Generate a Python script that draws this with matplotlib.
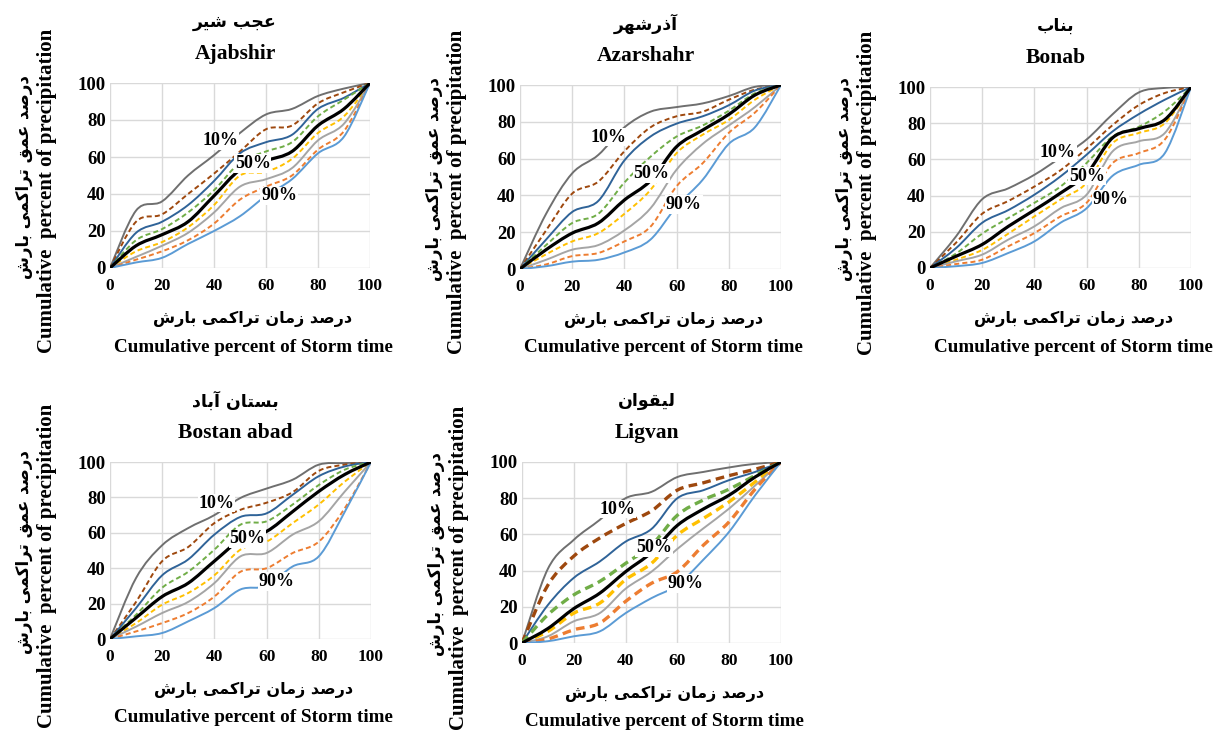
import matplotlib
matplotlib.use("Agg")
import matplotlib.pyplot as plt
from matplotlib.path import Path
from matplotlib.patches import PathPatch
import numpy as np

# cumulative percent of storm time (x of every curve)
time_pct = [0, 10, 20, 30, 40, 50, 60, 70, 80, 90, 100]
quantiles = ["10%", "20%", "30%", "40%", "50%", "60%", "70%", "80%", "90%"]

# rows: 10% .. 90% curves, cumulative percent of precipitation
ajabshir = [
    [0, 31, 36, 50, 61, 73, 83, 86, 93, 97, 100],
    [0, 25, 29, 40, 51, 63, 75, 77, 89, 95, 100],
    [0, 19, 25, 34, 47, 62, 68, 72, 86, 92, 100],
    [0, 15, 21, 30, 42, 57, 63, 68, 82, 91, 100],
    [0, 12, 18, 25, 39, 53, 58, 63, 77, 86, 100],
    [0, 9, 14, 22, 34, 50, 52, 59, 73, 82, 100],
    [0, 6, 12, 19, 30, 44, 48, 54, 69, 78, 100],
    [0, 4.5, 9, 15, 24, 37, 44, 50, 64, 74, 100],
    [0, 3, 5.5, 13, 20, 28, 39, 48, 62, 71, 100],
]
azarshahr = [
    [0, 30, 52, 62, 77, 85.5, 88, 90, 94, 99, 100],
    [0, 21, 41, 47.5, 64, 77, 83, 85.5, 92, 97.5, 100],
    [0, 16, 31, 37, 59, 72, 79, 83, 89, 97, 100],
    [0, 13, 25, 30, 47, 61, 72, 78, 86, 95.5, 100],
    [0, 10.5, 19.5, 25, 37.5, 48, 66.5, 75.5, 84, 94.5, 100],
    [0, 8, 15, 19.5, 30, 43, 63, 73, 81, 92, 100],
    [0, 5, 10.5, 13, 21, 33, 54, 68, 78, 88, 100],
    [0, 2.5, 7, 8.7, 15, 23, 45, 57.5, 74, 85, 100],
    [0, 1.5, 4, 5, 9, 16, 34, 48.5, 68, 77, 100],
]
bonab = [
    [0, 17.5, 38, 44, 51.5, 61, 71, 85, 97, 99.5, 100],
    [0, 14, 30, 37, 45, 54, 66, 79, 90, 96.7, 100],
    [0, 11, 25, 32, 40.5, 50.6, 62.6, 75.5, 85, 93, 100],
    [0, 8, 19, 27.6, 36, 45, 58, 72.7, 78, 86.6, 100],
    [0, 6.5, 13, 23, 32, 41.4, 52, 72, 77, 82, 100],
    [0, 4.6, 10, 19, 28.5, 37.8, 47, 69, 74.6, 80, 100],
    [0, 3.7, 7.4, 15.7, 23, 33, 40.5, 64.5, 70, 74.6, 100],
    [0, 2.2, 4.6, 12, 19.3, 28.5, 36, 58, 63.5, 71, 100],
    [0, 1, 2.8, 8.3, 14.7, 25, 33, 51, 57, 63.5, 100],
]
bostan_abad = [
    [0, 34.5, 53, 62.7, 70, 79.7, 85, 90, 98.5, 99.4, 100],
    [0, 21, 44, 52, 65.5, 73, 77, 83, 95, 98.5, 100],
    [0, 17.5, 36, 45, 59, 69, 71, 81.5, 92, 97.5, 100],
    [0, 13.7, 29, 38, 50.5, 64.6, 66.5, 76, 87, 95.7, 100],
    [0, 12, 24, 31.6, 44, 56, 60.8, 72, 83.4, 93, 100],
    [0, 9, 19.4, 26, 36, 50.5, 55, 65.5, 76, 89, 100],
    [0, 7, 14.7, 21, 31.6, 46.7, 48.6, 59, 66.5, 83.4, 100],
    [0, 4.3, 9, 14.7, 24, 38, 40, 48.6, 55, 74, 100],
    [0, 1.5, 3.4, 10, 17.5, 28, 30, 41, 46.7, 72, 100],
]
ligvan = [
    [0, 41, 57, 68, 80, 83.5, 91.7, 94.5, 97, 99, 100],
    [0, 32, 48, 58, 66, 73, 84.5, 88.5, 92.5, 96, 100],
    [0, 21, 36, 45, 56, 63, 80, 84.4, 90, 94.5, 100],
    [0, 15.6, 26.6, 34, 44, 54, 70.6, 79, 85, 92.6, 100],
    [0, 8, 19, 27.5, 39.4, 50, 65, 74, 81.7, 91.7, 100],
    [0, 6.4, 16.5, 22, 35, 44, 59.6, 68.8, 78, 89, 100],
    [0, 3.7, 12, 16.5, 30, 39.4, 52, 63.3, 74.3, 87, 100],
    [0, 2.2, 7.3, 11, 23, 33, 39.4, 54, 67, 85, 100],
    [0, 1, 3.7, 6.4, 16.5, 24.8, 32, 46, 61.5, 81.6, 100],
]

stations_en = ["Ajabshir", "Azarshahr", "Bonab", "Bostan abad", "Ligvan"]
stations_fa = ["عجب شیر", "آذرشهر", "بناب", "بستان آباد", "لیقوان"]
station_data = [ajabshir, azarshahr, bonab, bostan_abad, ligvan]
xlabel_en = "Cumulative percent of Storm time"
ylabel_en = "Cumulative  percent of precipitation"
xlabel_fa = "درصد زمان تراکمی بارش"
ylabel_fa = "درصد عمق تراکمی بارش"

colors = ["#6f6f6f", "#9e480e", "#2f6398", "#70ad47", "#000000",
          "#ffc000", "#a5a5a5", "#ed7d31", "#5b9bd5"]
dashed = [False, True, False, True, False, True, False, True, False]

# label positions (x, y) for 10%, 50%, 90% in each panel
label_pos = [
    [(42.6, 69), (54.9, 56.6), (65, 39)],
    [(33.9, 71.6), (50.4, 52), (62.8, 35)],
    [(49, 63.7), (60.2, 50.7), (69.2, 37.8)],
    [(40.9, 76.8), (52.6, 56.5), (63.8, 32.5)],
    [(36.7, 74), (51, 52.6), (63.3, 32.8)],
]

# axes boxes in pixels: x0, x100, y100, y0
boxes = [(110, 370, 83, 268), (520, 781, 85, 269), (930, 1191, 87, 268),
         (110, 371, 462, 639), (522, 781, 462, 643)]

# --- minimal Arabic/Persian shaping (matplotlib has no complex text layout)
FORMS = {
    'ا': ('\ufe8d', '\ufe8e', None, None), 'آ': ('\ufe81', '\ufe82', None, None),
    'ب': ('\ufe8f', '\ufe90', '\ufe91', '\ufe92'), 'ت': ('\ufe95', '\ufe96', '\ufe97', '\ufe98'),
    'ج': ('\ufe9d', '\ufe9e', '\ufe9f', '\ufea0'), 'د': ('\ufea9', '\ufeaa', None, None),
    'ذ': ('\ufeab', '\ufeac', None, None), 'ر': ('\ufead', '\ufeae', None, None),
    'ز': ('\ufeaf', '\ufeb0', None, None), 'س': ('\ufeb1', '\ufeb2', '\ufeb3', '\ufeb4'),
    'ش': ('\ufeb5', '\ufeb6', '\ufeb7', '\ufeb8'), 'ص': ('\ufeb9', '\ufeba', '\ufebb', '\ufebc'),
    'ع': ('\ufec9', '\ufeca', '\ufecb', '\ufecc'), 'ق': ('\ufed5', '\ufed6', '\ufed7', '\ufed8'),
    'ل': ('\ufedd', '\ufede', '\ufedf', '\ufee0'), 'م': ('\ufee1', '\ufee2', '\ufee3', '\ufee4'),
    'ن': ('\ufee5', '\ufee6', '\ufee7', '\ufee8'), 'ه': ('\ufee9', '\ufeea', '\ufeeb', '\ufeec'),
    'و': ('\ufeed', '\ufeee', None, None), 'ک': ('\ufb8e', '\ufb8f', '\ufb90', '\ufb91'),
    'ی': ('\ufbfc', '\ufbfd', '\ufbfe', '\ufbff'),
}


def shape(s):
    out = []
    for i, c in enumerate(s):
        if c not in FORMS:
            out.append(c)
            continue
        p = s[i - 1] if i > 0 else None
        n = s[i + 1] if i < len(s) - 1 else None
        prev_j = p in FORMS and FORMS[p][2] is not None
        next_j = n in FORMS and FORMS[c][2] is not None
        iso, fin, ini, med = FORMS[c]
        if prev_j and next_j:
            out.append(med)
        elif prev_j:
            out.append(fin)
        elif next_j:
            out.append(ini)
        else:
            out.append(iso)
    return "".join(out[::-1])


def smooth_path(x, y):
    # excel-like smoothed line as cubic bezier segments
    pts = np.column_stack([x, y]).astype(float)
    n = len(pts)
    verts = [pts[0]]
    codes = [Path.MOVETO]
    for i in range(n - 1):
        p0 = pts[i - 1] if i > 0 else pts[i]
        p1 = pts[i]
        p2 = pts[i + 1]
        p3 = pts[i + 2] if i + 2 < n else pts[i + 1]
        c1 = p1 + (p2 - p0) / 6.0
        c2 = p2 - (p3 - p1) / 6.0
        verts += [c1, c2, p2]
        codes += [Path.CURVE4] * 3
    return Path(verts, codes)


W, H = 1225, 736
fig = plt.figure(figsize=(W / 100, H / 100), dpi=100)
serif = "Liberation Serif"
fa_font = "DejaVu Sans"

for k in range(5):
    x0, x1, yt, yb = boxes[k]
    ax = fig.add_axes([x0 / W, 1 - yb / H, (x1 - x0) / W, (yb - yt) / H])
    ax.set_xlim(0, 100)
    ax.set_ylim(0, 100)
    ax.set_xticks([0, 20, 40, 60, 80, 100])
    ax.set_yticks([0, 20, 40, 60, 80, 100])
    ax.grid(True, color="#d9d9d9", lw=1)
    ax.set_axisbelow(True)
    for sp in ax.spines.values():
        sp.set_visible(False)
    ax.tick_params(length=0, pad=7)
    for t in ax.get_xticklabels():
        t.set_fontfamily(serif); t.set_fontweight("bold"); t.set_fontsize(12.5)
    for t in ax.get_yticklabels():
        t.set_fontfamily(serif); t.set_fontweight("bold"); t.set_fontsize(13.5)
    ax.tick_params(axis="y", pad=3)

    thick = (k == 4)
    for j, row in enumerate(station_data[k]):
        lw = 1.4
        if j == 4:
            lw = 2.3
        elif dashed[j] and thick:
            lw = 2.4
        ls = (0, (2.6, 1.6)) if dashed[j] else "-"
        patch = PathPatch(smooth_path(time_pct, row), fill=False, edgecolor=colors[j],
                          lw=lw, linestyle=ls, capstyle="butt", zorder=3 + (j == 4))
        ax.add_patch(patch)

    for (lx, ly), q in zip(label_pos[k], ["10%", "50%", "90%"]):
        ax.text(lx, ly, q, ha="center", va="center", family=serif, weight="bold",
                fontsize=13, zorder=6,
                bbox=dict(facecolor="white", edgecolor="none", pad=0.5))

    cx = (x0 + x1) / 2
    # titles
    fig.text(cx / W - 0.004, 1 - (yt - 61) / H, shape(stations_fa[k]), ha="center", va="center",
             family=fa_font, weight="bold", fontsize=12.5)
    fig.text(cx / W - 0.004, 1 - (yt - 29) / H, stations_en[k], ha="center", va="center",
             family=serif, weight="bold", fontsize=15.5)
    # x labels
    fig.text((cx + 13) / W, 1 - (yb + 51) / H, shape(xlabel_fa), ha="center", va="center",
             family=fa_font, weight="bold", fontsize=11.5)
    fig.text((cx + 13) / W, 1 - (yb + 79) / H, xlabel_en, ha="center", va="center",
             family=serif, weight="bold", fontsize=13.8)
    # y labels
    cy = (yt + yb) / 2
    fig.text((x0 - 86) / W, 1 - (cy + 2) / H, shape(ylabel_fa), ha="center", va="center",
             rotation=90, family=fa_font, weight="bold", fontsize=12)
    fig.text((x0 - 63) / W, 1 - (cy + 15) / H, ylabel_en, ha="center", va="center",
             rotation=90, family=serif, weight="bold", fontsize=15)

fig.savefig("out.png", dpi=100, facecolor="white")
